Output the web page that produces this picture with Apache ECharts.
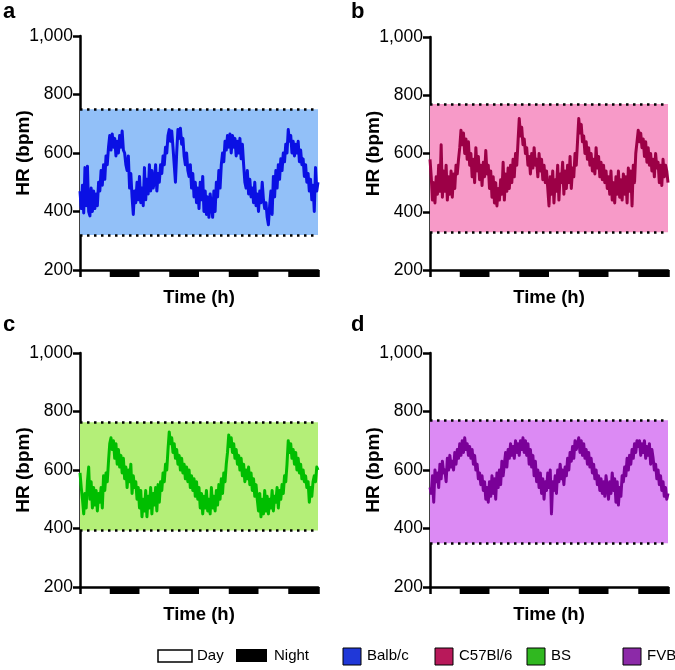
<!DOCTYPE html>
<html>
<head>
<meta charset="utf-8">
<script src="https://cdn.jsdelivr.net/npm/echarts@6/dist/echarts.min.js"></script>
<style>html,body{margin:0;padding:0;background:#fff}#c{width:675px;height:670px}</style>
</head>
<body>
<div id="c"></div>
<script>
// ---- data ----
const strains = ['Balb/c', 'C57Bl/6', 'BS', 'FVB'];
const panelLetters = ['a', 'b', 'c', 'd'];
const yTicks = [200, 400, 600, 800, 1000];
const nightStart = [12, 36, 60, 84];
const nightEnd = [24, 48, 72, 96];
const bandLow = [320, 330, 393, 350];
const bandHigh = [750, 770, 763, 770];
// half-hour samples, 0 h .. 96 h
const hrBalbc = [
 470,410,490,395,550,420,555,400,385,480,400,470,410,460,420,500,470,540,490,560,510,590,560,620,
 660,610,665,620,650,590,640,600,660,620,675,610,600,560,540,590,480,530,450,390,470,430,500,440,
 520,430,480,420,550,440,510,460,560,470,540,480,500,560,470,530,500,560,530,590,560,620,600,660,
 680,640,675,620,560,500,600,680,650,685,630,650,590,560,600,540,520,560,480,530,450,500,430,480,
 410,500,440,520,400,470,390,450,380,460,420,380,470,400,500,450,540,480,560,600,570,640,610,660,
 620,665,600,660,620,650,590,640,600,650,580,630,560,500,480,540,460,510,450,480,430,500,420,460,
 400,470,430,500,440,410,430,380,355,420,470,390,520,450,540,480,560,510,580,540,600,570,630,600,
 680,640,660,600,640,590,630,600,640,570,610,560,580,520,560,500,530,470,510,440,490,400,550,470,
 500];
const hrC57 = [
 580,520,440,500,430,520,460,560,470,630,450,540,470,560,440,520,460,540,450,530,480,560,530,580,
 620,680,630,670,600,650,580,640,560,600,520,580,500,620,540,590,510,560,490,570,520,610,530,560,
 480,540,450,520,430,500,420,480,440,510,460,570,440,530,470,550,480,560,500,580,520,600,560,640,
 720,660,690,630,650,600,620,560,590,530,600,550,620,560,580,520,600,540,580,510,560,500,540,480,
 420,520,460,540,430,510,470,560,440,530,500,570,460,540,480,560,500,590,480,550,520,600,560,640,
 720,670,700,640,660,600,640,580,620,560,600,540,580,530,620,550,590,520,570,510,560,500,540,480,
 520,460,540,440,500,430,520,460,540,450,510,440,530,460,520,430,550,470,540,420,560,500,600,640,
 680,640,670,620,650,590,640,570,620,560,600,540,580,520,600,550,570,500,560,490,580,520,560,540,
 500];
const hrBS = [
 590,540,500,450,520,470,560,610,500,560,470,540,480,530,460,520,490,540,470,580,530,590,560,630,
 690,710,670,700,640,690,620,670,610,650,590,640,570,610,540,600,560,620,520,580,540,560,500,540,
 470,530,440,500,460,530,440,510,470,540,450,520,480,540,460,550,490,560,530,590,560,620,600,670,
 730,690,710,660,690,640,670,620,650,600,640,590,620,570,610,560,600,540,580,530,570,510,560,500,
 540,470,520,450,510,470,530,460,500,450,540,470,510,460,530,480,550,500,570,520,590,560,620,660,
 720,680,710,660,690,640,670,620,650,600,640,580,620,560,600,570,610,550,590,530,570,510,550,500,
 460,520,440,500,450,530,460,510,450,500,470,530,460,510,490,540,470,530,500,550,520,580,560,620,
 700,660,690,640,670,620,660,600,640,590,620,570,600,560,580,540,560,490,540,510,560,580,560,610,
 600];
const hrFVB = [
 540,520,580,490,600,560,590,540,620,570,630,590,600,560,640,600,650,610,630,600,660,620,670,640,
 690,650,700,660,710,670,690,650,680,640,670,620,650,600,620,570,590,550,580,530,560,500,540,490,
 560,510,580,520,570,500,590,540,600,550,630,580,620,660,610,670,640,690,650,680,640,700,660,690,
 650,700,670,710,660,700,650,690,620,670,610,650,580,630,560,600,540,590,520,570,500,560,530,590,
 540,600,450,560,530,580,520,600,560,620,570,600,550,610,580,640,600,660,630,680,640,700,670,690,
 710,660,700,650,690,640,670,620,660,610,640,590,620,570,600,550,580,530,570,520,560,510,580,540,
 500,560,520,590,530,570,490,560,480,540,510,580,560,610,580,640,600,650,620,670,640,690,660,700,
 680,700,650,690,660,700,640,680,650,690,620,670,640,600,620,570,600,550,580,530,560,510,540,500,
 520];
const hrSeries = [hrBalbc, hrC57, hrBS, hrFVB];
const sampleHours = hrBalbc.map((_, i) => i * 0.5);

// ---- styles ----
const lineColors = ['#0a10e4', '#9c0046', '#00be00', '#7a0098'];
const bandColors = ['#92c0f8', '#f79ac8', '#b4ef78', '#dc8af4'];
const legendColors = ['#2038d8', '#b8195a', '#30b820', '#8c2aa8'];
const FONT = "'Liberation Sans', Arial, sans-serif";
const grids = [
  {left: 80, top: 36, width: 238, height: 234},
  {left: 430, top: 37, width: 238, height: 233},
  {left: 80, top: 353, width: 238, height: 234},
  {left: 430, top: 353, width: 238, height: 234}
];

const option = {
  animation: false,
  backgroundColor: '#fff',
  grid: grids,
  xAxis: grids.map((g, i) => ({
    gridIndex: i, type: 'value', min: 0, max: 96, interval: 96,
    name: 'Time (h)', nameLocation: 'middle', nameGap: 18, nameMoveOverlap: false,
    nameTextStyle: {fontFamily: FONT, fontWeight: 'bold', fontSize: 18.5, color: '#000'},
    axisLine: {show: true, lineStyle: {color: '#000', width: 2.5}},
    axisTick: {show: true, length: 7, lineStyle: {color: '#000', width: 2.5}},
    axisLabel: {show: false}, splitLine: {show: false}
  })),
  yAxis: grids.map((g, i) => ({
    gridIndex: i, type: 'value', min: 200, max: 1000, interval: 200,
    name: 'HR (bpm)', nameLocation: 'middle', nameGap: 47, nameMoveOverlap: false,
    nameTextStyle: {fontFamily: FONT, fontWeight: 'bold', fontSize: 19, color: '#000'},
    axisLine: {show: true, lineStyle: {color: '#000', width: 2.5}},
    axisTick: {show: true, length: 7, lineStyle: {color: '#000', width: 2.5}},
    axisLabel: {show: true, margin: 7, fontFamily: FONT, fontSize: 17.5, color: '#000',
      formatter: v => yTicks.includes(v) ? v.toLocaleString('en-US') : ''},
    splitLine: {show: false}
  })),
  series: []
};

hrSeries.forEach((vals, i) => {
  option.series.push({
    name: strains[i], type: 'line', xAxisIndex: i, yAxisIndex: i,
    data: vals.map((v, k) => [sampleHours[k], v]),
    showSymbol: false, symbol: 'none',
    lineStyle: {color: lineColors[i], width: 3, join: 'round'},
    z: 3,
    markArea: {silent: true, itemStyle: {color: bandColors[i], opacity: 1},
      data: [[{yAxis: bandLow[i]}, {yAxis: bandHigh[i]}]]},
    markLine: {silent: true, symbol: 'none', label: {show: false},
      lineStyle: {color: '#000', width: 2.5, type: [2.5, 4.5], cap: 'butt'},
      data: [{yAxis: bandLow[i]}, {yAxis: bandHigh[i]}]}
  });
  option.series.push({
    name: 'Night', type: 'custom', xAxisIndex: i, yAxisIndex: i,
    clip: false, z: 5,
    data: nightStart.map((s, k) => [s, nightEnd[k]]),
    renderItem: (params, api) => {
      const p0 = api.coord([api.value(0), 200]);
      const p1 = api.coord([api.value(1), 200]);
      return {type: 'rect', shape: {x: p0[0], y: p0[1], width: p1[0] - p0[0], height: 7},
        style: {fill: '#000'}};
    }
  });
});

const graphic = [];
const letterPos = [[3, 1], [351, 1], [3, 314], [351, 314]];
panelLetters.forEach((l, i) => {
  graphic.push({type: 'text', left: letterPos[i][0], top: letterPos[i][1],
    style: {text: l, font: 'bold 22px ' + FONT, fill: '#000'}});
});
const ly = 656;
graphic.push({type: 'rect', shape: {x: 158, y: 650, width: 34, height: 12}, style: {fill: '#fff', stroke: '#000', lineWidth: 1.5}});
graphic.push({type: 'text', x: 197, y: ly, style: {text: 'Day', font: '15px ' + FONT, fill: '#000', verticalAlign: 'middle'}});
graphic.push({type: 'rect', shape: {x: 236, y: 649, width: 31, height: 13}, style: {fill: '#000'}});
graphic.push({type: 'text', x: 274, y: ly, style: {text: 'Night', font: '15px ' + FONT, fill: '#000', verticalAlign: 'middle'}});
const legX = [343, 435, 527, 623];
strains.forEach((s, i) => {
  graphic.push({type: 'rect', shape: {x: legX[i], y: 648, width: 18, height: 17},
    style: {fill: legendColors[i], stroke: '#000', lineWidth: 1}});
  graphic.push({type: 'text', x: legX[i] + 24, y: ly,
    style: {text: s, font: '15px ' + FONT, fill: '#000', verticalAlign: 'middle'}});
});
option.graphic = graphic;

const chart = echarts.init(document.getElementById('c'));
chart.setOption(option);
</script>
</body>
</html>
